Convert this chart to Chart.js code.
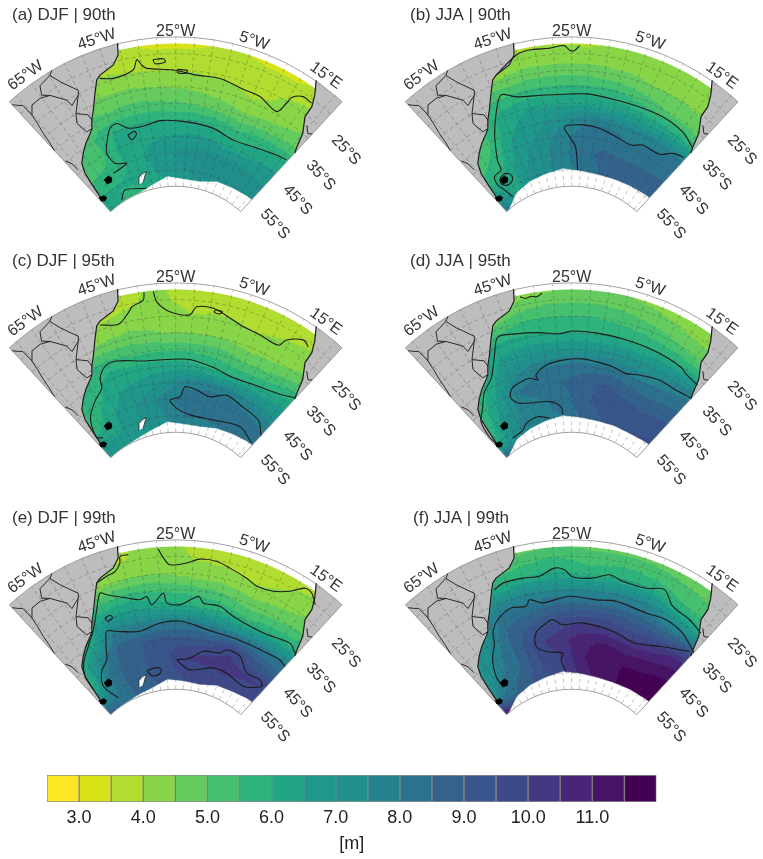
<!DOCTYPE html>
<html>
<head>
<meta charset="utf-8">
<title>Significant wave height percentiles</title>
<script src="https://cdn.jsdelivr.net/npm/chart.js@4/dist/chart.umd.min.js"></script>
<style>
    body { margin: 0; background: #fff; }
    canvas { position: absolute; filter: blur(0.4px); }
</style>
</head>
<body>
<canvas id="panelA" width="380" height="250" style="left:0;top:0"></canvas>
<canvas id="panelB" width="367" height="250" style="left:396px;top:0"></canvas>
<canvas id="panelC" width="380" height="250" style="left:0;top:246px"></canvas>
<canvas id="panelD" width="367" height="250" style="left:396px;top:246px"></canvas>
<canvas id="panelE" width="380" height="250" style="left:0;top:503px"></canvas>
<canvas id="panelF" width="367" height="250" style="left:396px;top:503px"></canvas>
<canvas id="colorbar" width="763" height="99" style="left:0;top:760px"></canvas>
<script>
// Grid the wave height fields are read on
const fieldLons = [-70, -60, -50, -40, -30, -20, -10, 0, 10, 20];
const fieldLats = [-15, -20, -25, -30, -35, -40, -45, -50, -55, -60];

// Wave height in metres, one row per latitude in fieldLats
const fieldA = [
    [3.5, 3.5, 3.5, 3.5, 3.2, 3.3, 3.5, 3.3, 3.3, 3.6],
    [3.7, 3.7, 3.7, 3.7, 3.6, 3.6, 3.7, 3.6, 3.6, 3.7],
    [4.5, 4.5, 4.2, 4.05, 4.0, 3.95, 3.9, 3.8, 4.05, 4.35],
    [4.8, 4.8, 4.6, 4.6, 4.5, 4.4, 4.25, 4.05, 4.1, 4.5],
    [5.2, 5.2, 5.1, 5.2, 5.1, 5.0, 4.8, 4.6, 4.8, 5.0],
    [5.3, 5.4, 6.0, 6.0, 6.0, 6.0, 5.9, 5.6, 5.85, 6.0],
    [5.0, 5.3, 6.2, 6.4, 6.5, 6.6, 6.6, 6.2, 6.4, 6.6],
    [5.5, 5.6, 6.0, 6.5, 6.9, 7.2, 7.3, 7.4, 7.2, 7.0],
    [6.0, 6.0, 6.1, 6.4, 6.7, 7.0, 7.1, 7.1, 7.1, 7.0],
    [6.7, 6.0, 5.8, 6.0, 6.5, 6.8, 7.0, 7.0, 7.0, 7.0]
];
const fieldB = [
    [3.7, 3.7, 3.6, 3.7, 3.75, 3.8, 4.0, 4.1, 4.1, 4.1],
    [4.0, 4.0, 3.9, 4.2, 4.25, 4.15, 4.3, 4.3, 4.3, 4.2],
    [4.7, 4.7, 4.6, 4.7, 4.7, 4.7, 4.6, 4.5, 4.5, 4.4],
    [5.5, 5.5, 5.5, 5.6, 5.6, 5.6, 5.55, 5.2, 4.9, 4.8],
    [5.3, 5.3, 6.3, 6.5, 6.4, 6.4, 6.4, 6.3, 6.2, 6.0],
    [5.3, 5.4, 6.4, 6.8, 7.2, 7.9, 7.9, 7.7, 7.8, 8.05],
    [5.3, 5.6, 6.7, 7.1, 7.8, 8.3, 8.35, 8.1, 8.25, 8.35],
    [5.6, 6.0, 6.9, 7.3, 7.8, 8.4, 8.6, 8.6, 8.6, 8.6],
    [6.9, 6.0, 7.0, 7.4, 7.7, 8.1, 8.5, 8.6, 8.7, 8.8],
    [8.0, 7.0, 7.2, 7.4, 7.7, 8.1, 8.5, 8.6, 8.7, 8.8]
];
const fieldC = [
    [3.7, 3.7, 3.7, 3.85, 4.1, 3.6, 3.6, 3.6, 3.6, 3.7],
    [3.7, 3.7, 3.7, 3.9, 4.1, 3.8, 3.7, 3.6, 3.7, 3.9],
    [4.5, 4.5, 4.1, 4.2, 4.3, 4.03, 4.15, 3.95, 4.2, 4.4],
    [4.6, 4.6, 4.6, 4.7, 4.5, 4.5, 4.5, 4.3, 4.4, 4.6],
    [5.5, 5.5, 5.6, 5.4, 5.4, 5.4, 5.3, 5.0, 5.1, 5.6],
    [5.5, 5.7, 6.3, 6.2, 6.2, 6.2, 6.0, 5.9, 6.1, 6.4],
    [5.4, 5.9, 6.5, 6.7, 7.1, 7.8, 7.8, 7.8, 7.5, 7.3],
    [5.4, 6.3, 6.8, 7.2, 7.8, 8.3, 8.4, 8.4, 8.3, 8.0],
    [6.5, 6.4, 6.8, 7.2, 7.5, 8.0, 7.95, 8.05, 8.05, 8.0],
    [7.0, 7.0, 6.6, 7.0, 7.3, 7.8, 7.8, 7.8, 7.8, 7.8]
];
const fieldD = [
    [4.0, 4.0, 4.0, 3.9, 4.2, 4.3, 4.3, 4.2, 4.1, 4.1],
    [4.6, 4.6, 4.2, 4.7, 4.9, 4.9, 4.8, 4.6, 4.4, 4.3],
    [5.3, 5.3, 5.1, 5.5, 5.5, 5.5, 5.4, 5.2, 5.0, 4.7],
    [5.5, 5.5, 6.2, 6.1, 6.0, 6.0, 6.0, 6.0, 5.97, 5.9],
    [5.5, 5.6, 6.7, 6.9, 7.0, 7.0, 7.1, 7.1, 7.2, 7.8],
    [5.5, 6.0, 7.3, 7.9, 8.1, 8.3, 8.3, 7.95, 8.1, 8.3],
    [5.4, 6.4, 8.0, 8.3, 8.5, 8.8, 9.1, 8.8, 8.7, 8.9],
    [5.6, 6.9, 7.7, 7.9, 8.2, 8.8, 9.3, 9.3, 9.2, 9.3],
    [6.0, 7.2, 7.9, 7.9, 8.0, 8.6, 8.9, 9.3, 9.5, 9.6],
    [8.7, 7.4, 8.1, 8.1, 8.1, 8.6, 8.9, 9.3, 9.5, 9.6]
];
const fieldE = [
    [3.7, 3.7, 3.6, 3.8, 4.3, 3.8, 3.7, 3.6, 3.6, 3.8],
    [3.9, 3.9, 3.9, 4.0, 4.3, 3.97, 3.9, 3.6, 4.0, 4.2],
    [4.7, 4.7, 4.3, 4.5, 4.5, 4.2, 4.2, 4.1, 4.3, 4.5],
    [5.5, 5.5, 5.4, 5.6, 5.4, 5.3, 5.1, 4.7, 4.9, 5.1],
    [6.0, 6.0, 6.7, 6.6, 6.3, 6.05, 6.0, 5.6, 5.85, 6.05],
    [6.0, 6.2, 8.1, 7.8, 8.0, 8.05, 7.8, 7.7, 7.9, 8.0],
    [5.8, 7.5, 8.8, 9.0, 9.3, 9.3, 9.3, 9.9, 9.2, 8.9],
    [5.8, 8.0, 8.8, 9.0, 9.4, 10.0, 10.2, 10.3, 10.1, 10.0],
    [7.0, 8.0, 8.8, 9.0, 9.3, 9.6, 9.6, 9.7, 9.7, 9.7],
    [9.0, 8.2, 8.5, 8.8, 9.1, 9.4, 9.6, 9.7, 9.7, 9.8]
];
const fieldF = [
    [5.0, 5.0, 4.8, 4.6, 4.7, 4.7, 4.6, 4.6, 4.5, 4.5],
    [5.0, 5.0, 5.0, 5.3, 5.5, 5.2, 5.3, 5.2, 5.0, 4.9],
    [6.0, 6.0, 5.9, 6.0, 6.2, 5.8, 6.0, 5.95, 5.5, 5.3],
    [6.9, 6.9, 7.4, 7.6, 7.5, 7.5, 7.6, 7.6, 6.9, 6.4],
    [7.0, 7.0, 8.3, 8.4, 8.7, 8.7, 8.8, 8.7, 8.5, 9.0],
    [6.8, 7.3, 8.6, 9.2, 9.8, 10.0, 9.9, 9.6, 10.1, 10.7],
    [6.8, 7.7, 8.6, 9.9, 10.3, 10.9, 11.0, 10.8, 11.0, 11.3],
    [6.8, 8.0, 8.6, 9.6, 10.0, 10.9, 11.5, 11.5, 11.6, 11.9],
    [7.7, 8.4, 8.9, 9.4, 9.9, 10.7, 11.2, 11.5, 11.9, 12.0],
    [11.0, 8.6, 9.0, 9.4, 9.9, 10.7, 11.2, 11.5, 11.9, 12.0]
];

// Contour lines as [lon, lat]
const contoursA = [
    [[-47.7,-23.4],[-43.9,-24.7],[-37.6,-23.7],[-36,-20.8],[-34.9,-22.7],[-33.6,-23.9],[-25.7,-25],[-18.6,-26.2],[-11.3,-26.1],[-3.6,-27.3],[2.1,-27.5],[9,-29.2],[10.3,-25.5],[10.7,-23.2],[13.3,-21.1],[16.3,-21.2]],
    [[21.9,-39.2],[17.7,-40],[8.1,-41.9],[-0.4,-42.7],[-9.7,-41.2],[-20.7,-40.5],[-31.1,-40],[-36.6,-40.8],[-44,-40.4],[-47.7,-37.9],[-50.7,-38.5],[-54.3,-42.2],[-56.3,-44.9],[-55,-48.7],[-49.9,-50.2],[-58.1,-51.1]],
    [[-62,-59.3],[-57,-57.2],[-44.1,-59.3]],
    [[-45,-42.3],[-42,-41.8],[-41.5,-42.8],[-44,-44],[-45,-42.3]],
    [[-31.5,-21.5],[-28.5,-21.5],[-28,-22.5],[-31,-22.8],[-31.5,-21.5]],
    [[-24.5,-24.8],[-21.5,-25],[-22,-25.9],[-24.5,-25.7],[-24.5,-24.8]]
];
const contoursB = [
    [[-47.3,-22.5],[-40.3,-18.5],[-36.6,-17.8],[-31,-18.1],[-27,-17.6],[-25.6,-19],[-24.3,-19.2],[-22.9,-17.6]],
    [[21.8,-34.5],[15.4,-32.6],[7,-32],[-1.6,-32.3],[-9.8,-32.4],[-19,-32],[-25.8,-32.2],[-34.8,-31.9],[-43.6,-30.6],[-48,-28.6],[-51.8,-33.2],[-55.4,-38.4],[-58.1,-43],[-60,-46.3],[-60.8,-49],[-65.2,-49.5],[-66.4,-52.1],[-65.1,-54.5],[-63.4,-57.6]],
    [[-64.6,-52.2],[-63.6,-51],[-61.1,-50.5],[-58.6,-51],[-57.6,-52.2],[-58.6,-53.4],[-61.1,-53.9],[-63.6,-53.4],[-64.6,-52.2]],
    [[21.7,-38.3],[17.3,-39.6],[13.2,-42.2],[5.4,-42.4],[1,-43.9],[-6.2,-43.1],[-13.7,-41.8],[-20.6,-41.4],[-28,-42],[-26,-45.1],[-23.2,-48.1],[-21.6,-55.1]]
];
const contoursC = [
    [[-47.7,-23.6],[-42.4,-25.1],[-38.8,-22.5],[-37.4,-20.9],[-34,-19.5],[-33.5,-17.2]],
    [[-31,-17.2],[-30.3,-20.5],[-26.7,-23.7],[-20.8,-24.5],[-19,-21.9],[-14.2,-21.7],[-7.8,-23.9],[-4.3,-24.9],[1.2,-25.4],[7.6,-25.7],[8.9,-23.1],[13,-20.4],[15.2,-21.2]],
    [[22.1,-35.7],[17.1,-37.8],[6.6,-39.7],[-1.7,-40.4],[-10.3,-39.2],[-19.7,-37.9],[-28.4,-38],[-37.2,-37.6],[-46.6,-35.5],[-51.2,-35.7],[-54.7,-38.3],[-55.9,-41.2],[-61.1,-43.6],[-66.2,-46.4],[-68.7,-48.9],[-70.6,-52.6],[-68,-54]],
    [[22.4,-51],[16.7,-48],[5.7,-47],[-1.8,-46],[-8.8,-48],[-15.4,-46.8],[-20.8,-46.2],[-22.9,-49.3],[-27.8,-50.3],[-24.4,-52.8],[-17,-54.5],[-3.7,-54.4],[11,-52.7],[21.2,-54.5]],
    [[-13.5,-22],[-11.5,-22.2],[-12,-23],[-13.8,-22.8],[-13.5,-22]]
];
const contoursD = [
    [[-39,-17.5],[-37.5,-18.3],[-36,-18],[-34.5,-18.4],[-33,-17.5]],
    [[-71.2,-55.4],[-71.7,-51.9],[-69.9,-46.8],[-65.7,-43.9],[-61.2,-40.1],[-56.4,-37.7],[-51.7,-31.8],[-48.5,-27.2],[-42.8,-28],[-35.4,-29.2],[-29,-30.2],[-24.7,-29.5],[-17.1,-29.6],[-8.2,-29.8],[-0.2,-29.9],[7,-30],[13.7,-30.4],[15,-31],[20.9,-31.5]],
    [[22.1,-35.7],[16.1,-36.8],[9,-37],[1.4,-38.5],[-3.6,-39.5],[-9.2,-38.7],[-15.8,-38.2],[-20.9,-37.8],[-28.4,-38.2],[-34.9,-39.2],[-39.6,-41.5],[-39.3,-43.1],[-42.5,-42],[-48.7,-42.6],[-51.3,-43.5],[-52.8,-45.7],[-50.2,-48.1],[-36.1,-50.2],[-30.6,-52.2],[-30,-54.5]],
    [[-62,-56.5],[-54.4,-55.9],[-51.1,-54.5],[-43.9,-53.8],[-37.7,-55]]
];
const contoursE = [
    [[-48.7,-23.5],[-45.3,-22.6],[-42.6,-22],[-40.7,-20],[-40.2,-18],[-37.9,-18]],
    [[-29.7,-17.6],[-28.4,-20.4],[-26.7,-22.5],[-21.9,-21.9],[-18.2,-20.4],[-13.4,-20.4],[-9.4,-21.5],[-4,-23],[-0.3,-24.2],[4.7,-23.5],[8.9,-21.1],[12,-17.9],[14.2,-18],[16.9,-20.2]],
    [[-70.3,-51],[-69.2,-46.2],[-66.1,-42.8],[-60.8,-39.5],[-56,-35.9],[-51.9,-30.9],[-48.9,-26.7],[-47.1,-27.9],[-41.3,-30.6],[-37.1,-32],[-34.7,-31.4],[-33.4,-34.1],[-29.1,-30.9],[-28.1,-34],[-23.4,-34.5],[-17.3,-31.6],[-15.4,-33.4],[-9.6,-33.4],[-4,-35.2],[8.3,-36],[18.1,-34],[21.7,-35.3]],
    [[22.3,-40.3],[19.1,-39.8],[10.4,-40.8],[-1.2,-41.3],[-12.4,-41.1],[-22.7,-39.5],[-31.1,-39.8],[-39.6,-41.3],[-48.3,-39.3],[-51.8,-38.1],[-54.6,-42.1],[-57,-45.8],[-61.7,-48],[-65.2,-52],[-62,-57.5]],
    [[-24.4,-51.1],[-17.9,-50.4],[-12,-47.7],[-4.4,-46.9],[-2.1,-45.3],[4.4,-45.5],[10.9,-48.9],[17.9,-48.3],[20.6,-49.5],[13.2,-52.8],[2.1,-51.8],[-5.2,-51.8],[-17.1,-53.9],[-22.8,-52.1],[-24.4,-51.1]],
    [[-41,-53.5],[-37,-53],[-33,-53.5],[-34,-55],[-38,-55.3],[-41,-53.5]],
    [[-50.5,-34.2],[-48.5,-34],[-48,-35],[-50,-35.5],[-50.5,-34.2]]
];
const contoursF = [
    [[-49,-25.6],[-45.9,-24.6],[-39.8,-24.8],[-34.8,-25.2],[-30.1,-23.3],[-27.1,-24],[-24.7,-26.2],[-18.6,-26.2],[-13.7,-24.5],[-9.4,-25.6],[-2.1,-25.5],[3.2,-23.7],[7.7,-27],[14.3,-27.7],[19.8,-28.8]],
    [[22.4,-34.6],[15.1,-32.2],[8,-31.5],[0.9,-32.4],[-10,-31.9],[-16.7,-32.6],[-25.8,-32],[-35,-33.3],[-39.2,-31.6],[-40.9,-33.3],[-46,-32.5],[-51.8,-34.3],[-55.4,-37.3],[-56.7,-40.2],[-60.8,-44.2],[-63.7,-49],[-63.8,-52.6]],
    [[20.9,-35.2],[10.9,-39.4],[1.4,-42.1],[-8.4,-40.9],[-20.7,-39.9],[-28.6,-40.5],[-32.2,-38.7],[-35,-39.5],[-39.7,-41.8],[-41,-45.7],[-37.1,-47.9],[-29.3,-49],[-30.4,-51],[-28.2,-54.6]]
];

// Land and ice edges as [lon, lat]
const americaCoast = [[-40.2,-14.8],[-40.8,-18.3],[-42.8,-20.8],[-47.3,-22.5],[-48.7,-23.5],[-50.7,-27],[-53.4,-31.4],[-55.4,-33.9],[-56.8,-36.2],[-58.2,-37.2],[-61.6,-39.1],[-64.6,-41.1],[-67.6,-43.3],[-69.2,-46.2],[-70.3,-51],[-71.1,-54.6],[-72.4,-55.6]];
const americaEdge = [[-72.4,-15],[-70,-15],[-65,-15],[-60,-15],[-55,-15],[-50,-15],[-45,-15]];
const africaCoast = [[13.7,-14.8],[15.7,-18.7],[17,-22],[17.2,-25.6],[20,-30],[21.7,-34.6],[22.4,-36]];
const africaEdge = [[22.4,-15],[20,-15],[15,-15]];
const borderLines = [
    [[-72.4,-16.2],[-71.4,-17.5],[-70.4,-18.5],[-70.2,-22.4],[-70.6,-25.5],[-71.3,-29],[-71.7,-32],[-72.4,-35]],
    [[-70.3,-22.4],[-68.4,-20.2],[-65.4,-20.1],[-62.7,-21.1],[-59.3,-25],[-58.8,-27.2],[-55.6,-25.4],[-54.9,-24.1],[-58.3,-19.2],[-59.8,-16],[-63.5,-17],[-64.6,-19.6],[-62.7,-21.1]],
    [[-59.8,-16],[-58.7,-15]],
    [[-55.6,-25.4],[-59,-29.9],[-55.7,-32],[-55.4,-33.9]],
    [[-59,-29.9],[-60.4,-32.6],[-59,-36.3],[-56.8,-36.2]],
    [[-72,-39.5],[-70.8,-41.5],[-70.5,-44]],
    [[19.3,-27.3],[21.3,-29],[22.4,-28.2]]
];
const falkland = [[-64,-51.3],[-61,-50.9],[-60,-52],[-61.5,-53.1],[-64,-52.8]];
const fuego = [[-72,-54.5],[-69,-55],[-68.5,-56],[-70.5,-56.5],[-72.2,-55.8]];
const iceIsland = [[-48,-57.5],[-46.5,-55.5],[-44.2,-54.6],[-41.3,-54.5],[-43,-55.6],[-44.8,-57.1]];
const iceLons = [-70, -60, -50, -40, -30, -20, -10, 0, 10, 20, 22.4];
const iceLatsA = [-60, -60, -60, -58.8, -57, -57.8, -57.8, -56.2, -55.8, -55.2, -55.2];
const iceLatsB = [-60, -57.3, -56.1, -55.4, -54.6, -55.3, -55.6, -55.4, -55, -54.5, -54.4];
const iceLatsC = [-60, -60, -59.5, -58.5, -56.8, -57.5, -57.5, -56.5, -55.8, -55, -55];
const iceLatsD = [-60, -57.5, -56.5, -55.7, -54.9, -55.5, -55.8, -55.6, -55.5, -54.8, -54.7];
const iceLatsE = [-60, -60, -59.5, -58.8, -57, -57.5, -57.8, -56.5, -56, -55, -55];
const iceLatsF = [-60, -57.5, -56.3, -55.5, -54.6, -55.2, -55.6, -55.6, -55.2, -54.8, -54.7];

// Graticule and axis labels
const gridLons = [-70, -65, -60, -55, -50, -45, -40, -35, -30, -25, -20, -15, -10, -5, 0, 5, 10, 15, 20];
const gridLats = [-60, -55, -50, -45, -40, -35, -30, -25, -20, -15];
const lonLabels = ['65°W', '45°W', '25°W', '5°W', '15°E'];
const lonLabelLons = [-65, -45, -25, -5, 15];
const lonLabelLats = [-12, -12, -13.3, -12.5, -12];
const latLabels = ['25°S', '35°S', '45°S', '55°S'];
const latLabelLons = [33, 34.6, 37.2, 41.3];
const latLabelLats = [-24, -34.7, -44.7, -54.3];

// Colour bar
const levelEdges = [2.5, 3, 3.5, 4, 4.5, 5, 5.5, 6, 6.5, 7, 7.5, 8, 8.5, 9, 9.5, 10, 10.5, 11, 11.5, 12];
const levelColors = ['#fde725', '#d8e219', '#b0dd2f', '#89d548', '#65cb5e', '#46c06f', '#2eb37c', '#21a585', '#1f978b', '#21908d', '#26828e', '#2c728e', '#33638d', '#39568c', '#3e4989', '#453781', '#482576', '#471365', '#440154'];
const barTicks = [3, 4, 5, 6, 7, 8, 9, 10, 11];
const barTickLabels = ['3.0', '4.0', '5.0', '6.0', '7.0', '8.0', '9.0', '10.0', '11.0'];

const FONT = '"Liberation Sans", Arial, sans-serif';
const CONE = 0.9;           // meridian convergence of the conic map
const COLAT_SOUTH = 28.9;   // map radius at 60S, in degrees of latitude
const UNIT = 3.32;          // pixels per degree of latitude
const FIELD_TOP = -17;      // the data stops here, white strip above
const GRID_COLOR = 'rgba(60,60,60,0.38)';

// Conic projection, result goes on the chart's x and y scales
function project(lon, lat) {
    const r = COLAT_SOUTH + lat + 60;
    const th = CONE * (lon + 25) * Math.PI / 180;
    return { x: r * Math.sin(th), y: r * Math.cos(th) };
}

function toPoints(list) {
    return list.map((p) => project(p[0], p[1]));
}

// Value of a field at a map position, from the four surrounding read values
function fieldValue(field, lon, lat) {
    const fx = Math.max(0, Math.min(fieldLons.length - 1.001, (lon - fieldLons[0]) / 10));
    const fy = Math.max(0, Math.min(fieldLats.length - 1.001, (fieldLats[0] - lat) / 5));
    const i = Math.floor(fx), j = Math.floor(fy);
    const a = fx - i, b = fy - j;
    return (field[j][i] * (1 - a) + field[j][i + 1] * a) * (1 - b) +
        (field[j + 1][i] * (1 - a) + field[j + 1][i + 1] * a) * b;
}

function levelIndex(value) {
    let idx = 0;
    while (idx < levelColors.length - 1 && value >= levelEdges[idx + 1]) idx++;
    return idx;
}

function lineSet(list, color, width, extra) {
    return Object.assign({
        data: toPoints(list),
        showLine: true,
        borderColor: color,
        borderWidth: width,
        pointRadius: 0,
        tension: 0,
        fill: false
    }, extra || {});
}

function polygonSet(list, color, edge, width) {
    return lineSet(list, edge || color, width || 0.5, { fill: 'shape', backgroundColor: color });
}

// Paints the shaded field below the datasets, one path per colour level.
// Cells overlap a little so the antialiased edges between levels leave no seam.
const fieldPlugin = (field) => ({
    id: 'waveField',
    beforeDatasetsDraw(chart) {
        const { ctx, scales: { x, y } } = chart;
        const step = 0.5;
        const lap = 0.2;
        const paths = levelColors.map(() => new Path2D());
        const px = (lon, lat) => {
            const p = project(lon, lat);
            return [x.getPixelForValue(p.x), y.getPixelForValue(p.y)];
        };
        for (let lat = FIELD_TOP; lat > -60; lat -= step) {
            const lat2 = Math.max(lat - step - lap, -60);
            for (let lon = -72.4; lon < 22.4; lon += step) {
                const lon2 = Math.min(lon + step + lap, 22.4);
                const path = paths[levelIndex(fieldValue(field, lon + step / 2, lat - step / 2))];
                const a = px(lon, lat), b = px(lon2, lat), c = px(lon2, lat2), d = px(lon, lat2);
                path.moveTo(a[0], a[1]);
                path.lineTo(b[0], b[1]);
                path.lineTo(c[0], c[1]);
                path.lineTo(d[0], d[1]);
                path.closePath();
            }
        }
        paths.forEach((path, i) => {
            ctx.fillStyle = levelColors[i];
            ctx.fill(path);
        });
    }
});

// Panel title and the rotated graticule labels
const labelPlugin = (title, titleX) => ({
    id: 'mapLabels',
    afterDraw(chart) {
        const { ctx, scales: { x, y } } = chart;
        const put = (text, lon, lat, angle) => {
            const p = project(lon, lat);
            ctx.save();
            ctx.translate(x.getPixelForValue(p.x), y.getPixelForValue(p.y));
            ctx.rotate(angle * Math.PI / 180);
            ctx.fillText(text, 0, 0);
            ctx.restore();
        };
        ctx.save();
        ctx.fillStyle = '#333';
        ctx.textAlign = 'center';
        ctx.textBaseline = 'middle';
        ctx.font = '16px ' + FONT;
        lonLabels.forEach((t, i) => put(t, lonLabelLons[i], lonLabelLats[i], CONE * (lonLabelLons[i] + 25)));
        latLabels.forEach((t, i) => put(t, latLabelLons[i], latLabelLats[i], 47));
        ctx.textAlign = 'left';
        ctx.font = '17px ' + FONT;
        ctx.fillText(title, titleX, 15);
        ctx.restore();
    }
});

function drawPanel(id, title, titleX, field, contours, iceLats, hasIsland) {
    const arcLons = [-72.4].concat(gridLons, [22.4]);
    const sets = [];   // bottom to top, reversed below as Chart.js paints the first dataset last

    const iceEdge = iceLons.map((lon, i) => [lon, iceLats[i]]);
    const iceBack = iceLons.slice().reverse().map((lon) => [lon, -60]);
    sets.push(polygonSet(iceEdge.concat(iceBack), '#ffffff'));
    if (hasIsland) sets.push(polygonSet(iceIsland, '#ffffff', '#222', 0.8));
    sets.push(polygonSet(americaCoast.concat(americaEdge), '#bdbdbd', '#bdbdbd'));
    sets.push(polygonSet(africaCoast.concat(africaEdge), '#bdbdbd', '#bdbdbd'));

    gridLons.forEach((lon) => {
        sets.push(lineSet([[lon, -60], [lon, -15]], GRID_COLOR, 0.8, { borderDash: [4, 3] }));
    });
    gridLats.slice(1, -1).forEach((lat) => {
        sets.push(lineSet(arcLons.map((lon) => [lon, lat]), GRID_COLOR, 0.8, { borderDash: [4, 3] }));
    });

    // wedge outline
    sets.push(lineSet(arcLons.map((lon) => [lon, -15]), '#9a9a9a', 0.9));
    sets.push(lineSet(arcLons.map((lon) => [lon, -60]), '#9a9a9a', 0.9));
    sets.push(lineSet([[-72.4, -15], [-72.4, -60]], '#9a9a9a', 0.9));
    sets.push(lineSet([[22.4, -15], [22.4, -60]], '#9a9a9a', 0.9));

    borderLines.forEach((b) => sets.push(lineSet(b, '#2a2a2a', 1)));
    contours.forEach((c) => sets.push(lineSet(c, '#1c1c1c', 1.1, { tension: 0.3 })));
    sets.push(lineSet(americaCoast, '#1c1c1c', 1.2));
    sets.push(lineSet(africaCoast, '#1c1c1c', 1.2));
    sets.push(polygonSet(falkland, '#000000'));
    sets.push(polygonSet(fuego, '#000000'));

    const canvas = document.getElementById(id);
    new Chart(canvas, {
        type: 'scatter',
        data: { datasets: sets.reverse() },
        options: {
            responsive: false,
            animation: false,
            layout: { padding: 0 },
            plugins: { legend: { display: false }, tooltip: { enabled: false } },
            scales: {
                x: { type: 'linear', display: false, min: -175.7 / UNIT, max: (canvas.width - 175.7) / UNIT },
                y: { type: 'linear', display: false, min: (282.2 - canvas.height) / UNIT, max: 282.2 / UNIT }
            }
        },
        plugins: [fieldPlugin(field), labelPlugin(title, titleX)]
    });
}

drawPanel('panelA', '(a) DJF | 90th', 12, fieldA, contoursA, iceLatsA, true);
drawPanel('panelB', '(b) JJA | 90th', 14, fieldB, contoursB, iceLatsB, false);
drawPanel('panelC', '(c) DJF | 95th', 12, fieldC, contoursC, iceLatsC, true);
drawPanel('panelD', '(d) JJA | 95th', 14, fieldD, contoursD, iceLatsD, false);
drawPanel('panelE', '(e) DJF | 99th', 12, fieldE, contoursE, iceLatsE, true);
drawPanel('panelF', '(f) JJA | 99th', 17, fieldF, contoursF, iceLatsF, false);

// Colour bar: one floating bar per level on a linear axis
new Chart(document.getElementById('colorbar'), {
    type: 'bar',
    data: {
        labels: [''],
        datasets: levelColors.map((color, i) => ({
            data: [[levelEdges[i], levelEdges[i + 1]]],
            backgroundColor: color,
            borderColor: 'rgba(50,50,50,0.55)',
            borderWidth: 1,
            borderSkipped: false,
            grouped: false,
            barPercentage: 1,
            categoryPercentage: 1
        }))
    },
    options: {
        indexAxis: 'y',
        responsive: false,
        animation: false,
        layout: { padding: { left: 47, right: 106.5, top: 15, bottom: 0 } },
        plugins: { legend: { display: false }, tooltip: { enabled: false } },
        scales: {
            y: { display: false },
            x: {
                type: 'linear',
                min: 2.5,
                max: 12,
                afterBuildTicks: (axis) => { axis.ticks = barTicks.map((v) => ({ value: v })); },
                afterFit: (axis) => { axis.height = 57; },
                grid: { display: false, drawTicks: false },
                border: { display: false },
                ticks: {
                    autoSkip: false,
                    maxRotation: 0,
                    padding: 5,
                    color: '#222',
                    font: { family: FONT, size: 18 },
                    callback: (value) => barTickLabels[barTicks.indexOf(value)]
                },
                title: {
                    display: true,
                    text: '[m]',
                    color: '#222',
                    font: { family: FONT, size: 18 },
                    padding: { top: 0, bottom: 4 }
                }
            }
        }
    }
});
</script>
</body>
</html>
